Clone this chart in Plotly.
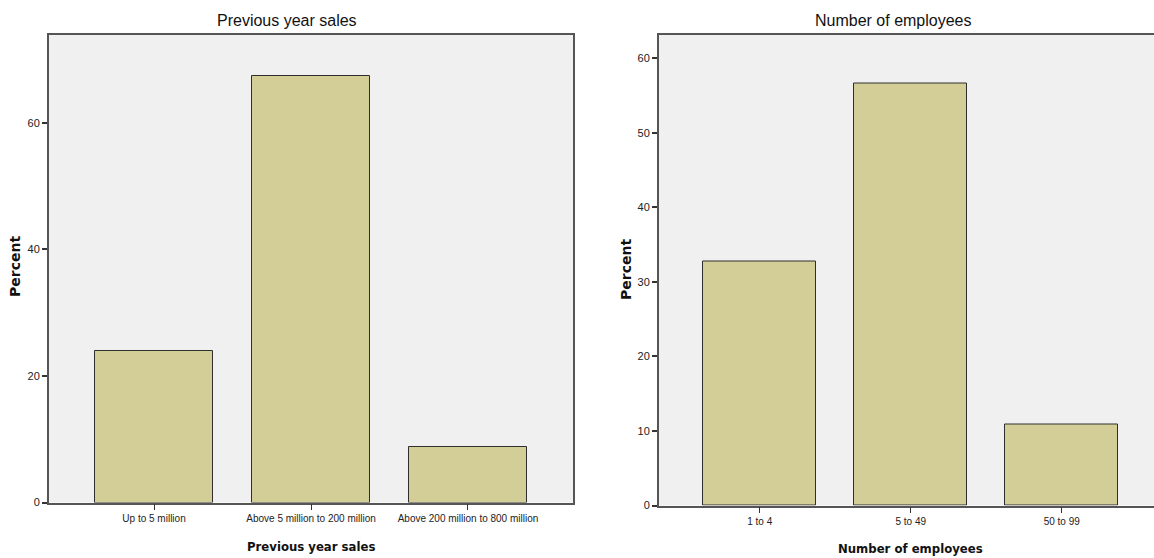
import plotly.graph_objects as go

# Data
sales_categories = ["Up to 5 million", "Above 5 million to 200 million", "Above 200 million to 800 million"]
sales_percent = [24.0, 67.4, 8.7]

emp_categories = ["1 to 4", "5 to 49", "50 to 99"]
emp_percent = [32.7, 56.6, 10.9]

left_ticks = [0, 20, 40, 60]
right_ticks = [0, 10, 20, 30, 40, 50, 60]

W, H = 1154, 558
BAR_FILL = "#d3ce98"
BAR_LINE = "#2e2e2e"
PLOT_BG = "#f0f0f0"
AXIS_COL = "#555555"
XTICK_FONT = dict(family="Liberation Sans, Arial, sans-serif", size=10, color="#222")
YTICK_FONT = dict(family="Liberation Sans, Arial, sans-serif", size=11, color="#222")


def px_x(x):
    return x / W


def px_y(y):
    return 1 - y / H


fig = go.Figure()
fig.add_trace(go.Bar(x=sales_categories, y=sales_percent, width=0.75,
                     marker=dict(color=BAR_FILL, line=dict(color=BAR_LINE, width=1)),
                     xaxis="x", yaxis="y", showlegend=False, hoverinfo="skip"))
fig.add_trace(go.Bar(x=emp_categories, y=emp_percent, width=0.75,
                     marker=dict(color=BAR_FILL, line=dict(color=BAR_LINE, width=1)),
                     xaxis="x2", yaxis="y2", showlegend=False, hoverinfo="skip"))

common_x = dict(showgrid=False, zeroline=False, showline=True, linecolor=AXIS_COL, linewidth=1.5,
                ticks="outside", ticklen=6, tickwidth=1.2, tickcolor="#333", tickfont=XTICK_FONT,
                tickangle=0, automargin=False, fixedrange=True)
common_y = dict(showgrid=False, zeroline=False, showline=True, linecolor=AXIS_COL, linewidth=2,
                ticks="outside", ticklen=5, tickwidth=1.5, tickcolor="#333", tickfont=YTICK_FONT,
                automargin=False, fixedrange=True)

fig.update_layout(
    width=W, height=H,
    margin=dict(l=0, r=0, t=0, b=0, autoexpand=False),
    paper_bgcolor="white",
    plot_bgcolor=PLOT_BG,
    bargap=0,
    xaxis=dict(domain=[px_x(49), px_x(573)], anchor="y", range=[-0.669, 2.669],
               mirror=True, **common_x),
    yaxis=dict(domain=[px_y(502.5), px_y(35)], anchor="x", range=[0, 73.9],
               tickvals=left_ticks, mirror=True, **common_y),
    xaxis2=dict(domain=[px_x(659), 1.0], anchor="y2", range=[-0.667, 2.611],
                mirror=True, **common_x),
    yaxis2=dict(domain=[px_y(505.5), px_y(34.5)], anchor="x2", range=[0, 63.2],
                tickvals=right_ticks, mirror=False, **common_y),
)

title_font = dict(family="Liberation Sans, Arial, sans-serif", size=16, color="#111")
xtitle_font = dict(family="DejaVu Sans Condensed, DejaVu Sans, sans-serif", size=13, color="#111")
ytitle_font = dict(family="DejaVu Sans, sans-serif", size=14, color="#111")

annos = [
    dict(text="Previous year sales", x=px_x(287), y=px_y(20), font=title_font),
    dict(text="Number of employees", x=px_x(893), y=px_y(20), font=title_font),
    dict(text="<b>Previous year sales</b>", x=px_x(311), y=px_y(546), font=xtitle_font),
    dict(text="<b>Number of employees</b>", x=px_x(910), y=px_y(548), font=xtitle_font),
    dict(text="<b>Percent</b>", x=px_x(15), y=px_y(267), font=ytitle_font, textangle=-90),
    dict(text="<b>Percent</b>", x=px_x(626), y=px_y(270), font=ytitle_font, textangle=-90),
]
for a in annos:
    fig.add_annotation(xref="paper", yref="paper", xanchor="center", yanchor="middle",
                       showarrow=False, **a)

fig.write_html("out.html", config={"displayModeBar": False},
               post_script="document.body.style.margin='0';document.body.style.overflow='hidden';")
